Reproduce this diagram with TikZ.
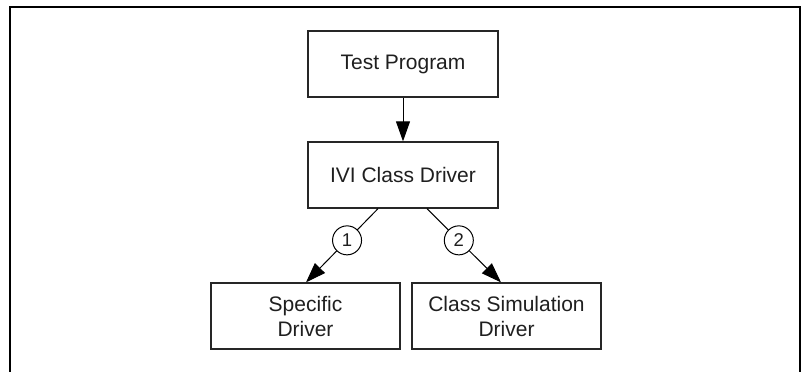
\documentclass[tikz,border=0pt]{standalone}
\usepackage{fontspec}
\setmainfont{Liberation Sans}
\usetikzlibrary{arrows.meta,calc}
\begin{document}
\begin{tikzpicture}[x=1bp,y=-1bp,
  box/.style={draw=black!85,line width=1.3bp,minimum width=190bp,minimum height=66bp,inner sep=0pt,align=center,
    text=black!88,font=\fontsize{21bp}{25bp}\selectfont},
  circ/.style={draw=black,fill=white,circle,line width=1bp,minimum size=29bp,inner sep=0pt,
    text=black!88,font=\fontsize{18.5bp}{20bp}\selectfont},
  conn/.style={line width=1bp,-{Triangle[length=20bp,width=14bp]}},
  frame/.style={line width=2.5bp}]
\useasboundingbox (0,0) rectangle (802,371);
\draw[frame] (10,372) -- (10,7) -- (800,7) -- (800,372);
\node[box] (tp) at (403,64) {Test Program};
\node[box] (ivi) at (403,175) {IVI Class Driver};
\node[box,minimum width=189bp] (sd) at (305.5,316) {Specific\\Driver};
\node[box,minimum width=189bp] (csd) at (506.5,316) {Class Simulation\\Driver};
\coordinate (s1) at ($(ivi.south)+(-25,0)$);
\coordinate (s2) at ($(ivi.south)+(24,0)$);
\coordinate (e1) at ($(sd.north)+(0.5,0)$);
\coordinate (e2) at ($(csd.north)+(-5.5,0)$);
\draw[conn] (tp) -- (ivi);
\draw[conn] (s1) -- (e1) node[circ,pos=0.43] (c1) {1};
\draw[conn] (s2) -- (e2) node[circ,pos=0.43] (c2) {2};
\end{tikzpicture}
\end{document}
